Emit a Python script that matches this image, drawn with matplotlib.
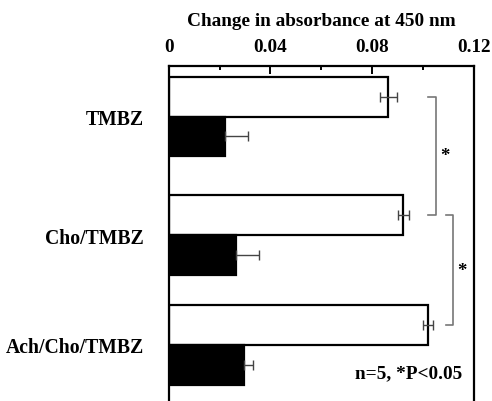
import matplotlib
matplotlib.use("Agg")
import matplotlib.pyplot as plt
from matplotlib.ticker import MultipleLocator

# Данные
groups = ["TMBZ", "Cho/TMBZ", "Ach/Cho/TMBZ"]
open_vals = [0.0863, 0.0922, 0.1020]
open_err = [0.0033, 0.0021, 0.0020]
filled_vals = [0.0223, 0.0265, 0.0295]
filled_err = [0.0087, 0.0088, 0.0038]
note = "n=5, *P<0.05"

plt.rcParams['font.family'] = ['Liberation Serif', 'DejaVu Serif']
plt.rcParams['font.weight'] = 'bold'

fig = plt.figure(figsize=(4.92, 4.02), dpi=100)
ax = fig.add_axes([0.3429, 0.0, 0.6205, 0.8333])

pos = [0, 1.042, 2.004]
h = 0.35
ec = "#444444"

y_open = [p - h / 2 for p in pos]
y_fill = [p + h / 2 for p in pos]

ax.barh(y_open, open_vals, height=h, color="white", edgecolor="black", linewidth=1.6, zorder=2)
ax.barh(y_fill, filled_vals, height=h, color="black", edgecolor="black", linewidth=1.6, zorder=2)
ax.errorbar(open_vals, y_open, xerr=open_err, fmt="none", ecolor=ec,
            elinewidth=1.0, capsize=3.6, capthick=1.0, zorder=3)
ax.errorbar(filled_vals, y_fill, xerr=[[0] * 3, filled_err], fmt="none", ecolor=ec,
            elinewidth=1.0, capsize=3.6, capthick=1.0, zorder=3)

# скобки значимости
gray = "#777777"
brackets = [(0, 1, 0.102, 0.105, 0.1087), (1, 2, 0.1089, 0.1116, 0.1152)]
for i, j, x0, x1, xs in brackets:
    ya, yb = y_open[i], y_open[j]
    ax.plot([x0, x1, x1, x0], [ya, ya, yb, yb], color=gray, lw=1.2, zorder=3)
    ax.text(xs, (ya + yb) / 2, "*", ha="center", va="center", fontsize=13.5, fontweight="bold")

ax.set_xlim(0, 0.12)
ax.set_ylim(2.496, -0.443)
ax.xaxis.set_major_locator(MultipleLocator(0.04))
ax.xaxis.set_minor_locator(MultipleLocator(0.02))
ax.xaxis.set_major_formatter(plt.FuncFormatter(lambda v, p: "0" if v == 0 else f"{v:.2f}"))
ax.xaxis.tick_top()
ax.xaxis.set_label_position("top")
ax.tick_params(axis="x", which="major", direction="in", length=6, width=1.4,
               labelsize=13.8, pad=8)
ax.tick_params(axis="x", which="minor", direction="in", length=3, width=1.4)
ax.set_xlabel("Change in absorbance at 450 nm", fontsize=13.9, fontweight="bold", labelpad=9.5)

ax.set_yticks(pos)
ax.set_yticklabels(groups, fontsize=14.2, fontweight="bold")
ax.tick_params(axis="y", length=0, pad=18)

for s in ["top", "left", "right"]:
    ax.spines[s].set_linewidth(1.6)
ax.spines["bottom"].set_visible(False)

ax.text(0.1152, 2.25, note, ha="right", va="center", fontsize=13.9, fontweight="bold")

fig.savefig("out.png", dpi=100)
